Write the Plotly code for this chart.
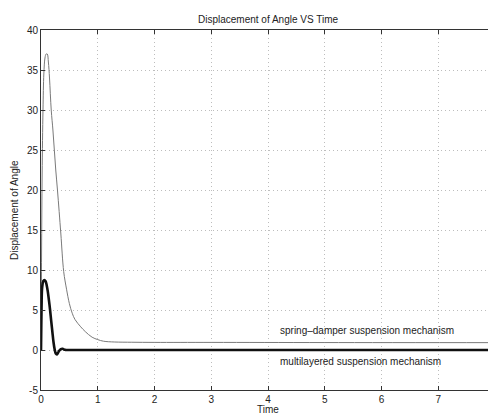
import plotly.graph_objects as go

# Spring-damper suspension mechanism (thin gray)
t_spring = [0, 0.01, 0.02, 0.035, 0.05, 0.07, 0.09, 0.11, 0.13, 0.15, 0.18, 0.21, 0.235, 0.26, 0.29,
            0.32, 0.35, 0.4, 0.45, 0.5, 0.55, 0.6, 0.7, 0.78, 0.9, 1.0, 1.1, 1.3, 1.6, 2, 3, 5, 8]
v_spring = [0, 12, 22, 30, 34.5, 36.5, 37, 37, 36, 34, 30, 27.5, 25, 22.5, 20,
            17.3, 14.5, 9.8, 7.6, 5.8, 4.6, 3.8, 2.9, 2.3, 1.6, 1.3, 1.1, 1.0, 0.97, 0.95, 0.95, 0.93, 0.92]

# Multilayered suspension mechanism (thick black)
t_multi = [0, 0.005, 0.01, 0.02, 0.04, 0.06, 0.08, 0.1, 0.12, 0.14, 0.16, 0.18, 0.2, 0.22, 0.24,
           0.26, 0.28, 0.3, 0.32, 0.35, 0.38, 0.42, 0.46, 0.5, 8]
v_multi = [0, 3, 5.5, 7.8, 8.6, 8.75, 8.6, 8.1, 7.3, 6.2, 5, 3.6, 2.3, 1.0, 0.1,
           -0.45, -0.55, -0.35, -0.1, 0.12, 0.15, 0.02, 0, 0, 0]

x_ticks = [0, 1, 2, 3, 4, 5, 6, 7, 8]
y_ticks = [-5, 0, 5, 10, 15, 20, 25, 30, 35, 40]

FONT = "Liberation Sans, Arial, Helvetica, sans-serif"
TXT = "#222222"

fig = go.Figure()
fig.add_trace(go.Scatter(x=t_spring, y=v_spring, mode="lines",
                         line=dict(color="#7a7a7a", width=1), line_shape="spline",
                         showlegend=False, hoverinfo="skip"))
fig.add_trace(go.Scatter(x=t_multi, y=v_multi, mode="lines",
                         line=dict(color="#111111", width=2.6), line_shape="spline",
                         showlegend=False, hoverinfo="skip"))

fig.add_annotation(x=4.18, y=2.4, xref="x", yref="y", text="spring–damper suspension mechanism",
                   showarrow=False, xanchor="left", yanchor="middle",
                   font=dict(family=FONT, size=10, color=TXT))
fig.add_annotation(x=4.18, y=-1.4, xref="x", yref="y", text="multilayered suspension mechanism",
                   showarrow=False, xanchor="left", yanchor="middle",
                   font=dict(family=FONT, size=10, color=TXT))

# Last x tick label (plotly drops it at the figure edge)
fig.add_annotation(x=x_ticks[-1], y=0, xref="x", yref="paper", yshift=-9,
                   text=str(x_ticks[-1]), showarrow=False, xanchor="center", yanchor="middle",
                   font=dict(family=FONT, size=10, color=TXT))

# Title and axis titles
fig.add_annotation(x=0.5, y=1, xref="paper", yref="paper", yshift=11,
                   text="Displacement of Angle VS Time", showarrow=False,
                   xanchor="center", yanchor="middle",
                   font=dict(family=FONT, size=10, color=TXT))
fig.add_annotation(x=0.5, y=0, xref="paper", yref="paper", yshift=-19,
                   text="Time", showarrow=False, xanchor="center", yanchor="middle",
                   font=dict(family=FONT, size=10, color=TXT))
fig.add_annotation(x=0, y=0.5, xref="paper", yref="paper", xshift=-27,
                   text="Displacement of Angle", showarrow=False, textangle=-90,
                   xanchor="center", yanchor="middle",
                   font=dict(family=FONT, size=10, color=TXT))

axis_common = dict(
    showline=True, linecolor="#333333", linewidth=1, mirror="ticks",
    ticks="inside", ticklen=4, tickcolor="#333333",
    showgrid=True, gridcolor="#bdbdbd", griddash="1px,3px", gridwidth=1,
    zeroline=False, tickfont=dict(family=FONT, size=10, color=TXT),
    automargin=False,
)

fig.update_xaxes(range=[0, 8], tickvals=x_ticks, ticktext=[str(v) for v in x_ticks], **axis_common)
fig.update_yaxes(range=[-5, 40], tickvals=y_ticks, ticktext=[str(v) for v in y_ticks], **axis_common)

# The page body adds an 8px offset, so the figure is sized to fit the window after it
fig.update_layout(
    width=488, height=407,
    margin=dict(l=33, r=1, t=22, b=25, autoexpand=False),
    plot_bgcolor="white", paper_bgcolor="white",
    font=dict(family=FONT, size=10, color=TXT),
)

fig.write_html("out.html")
